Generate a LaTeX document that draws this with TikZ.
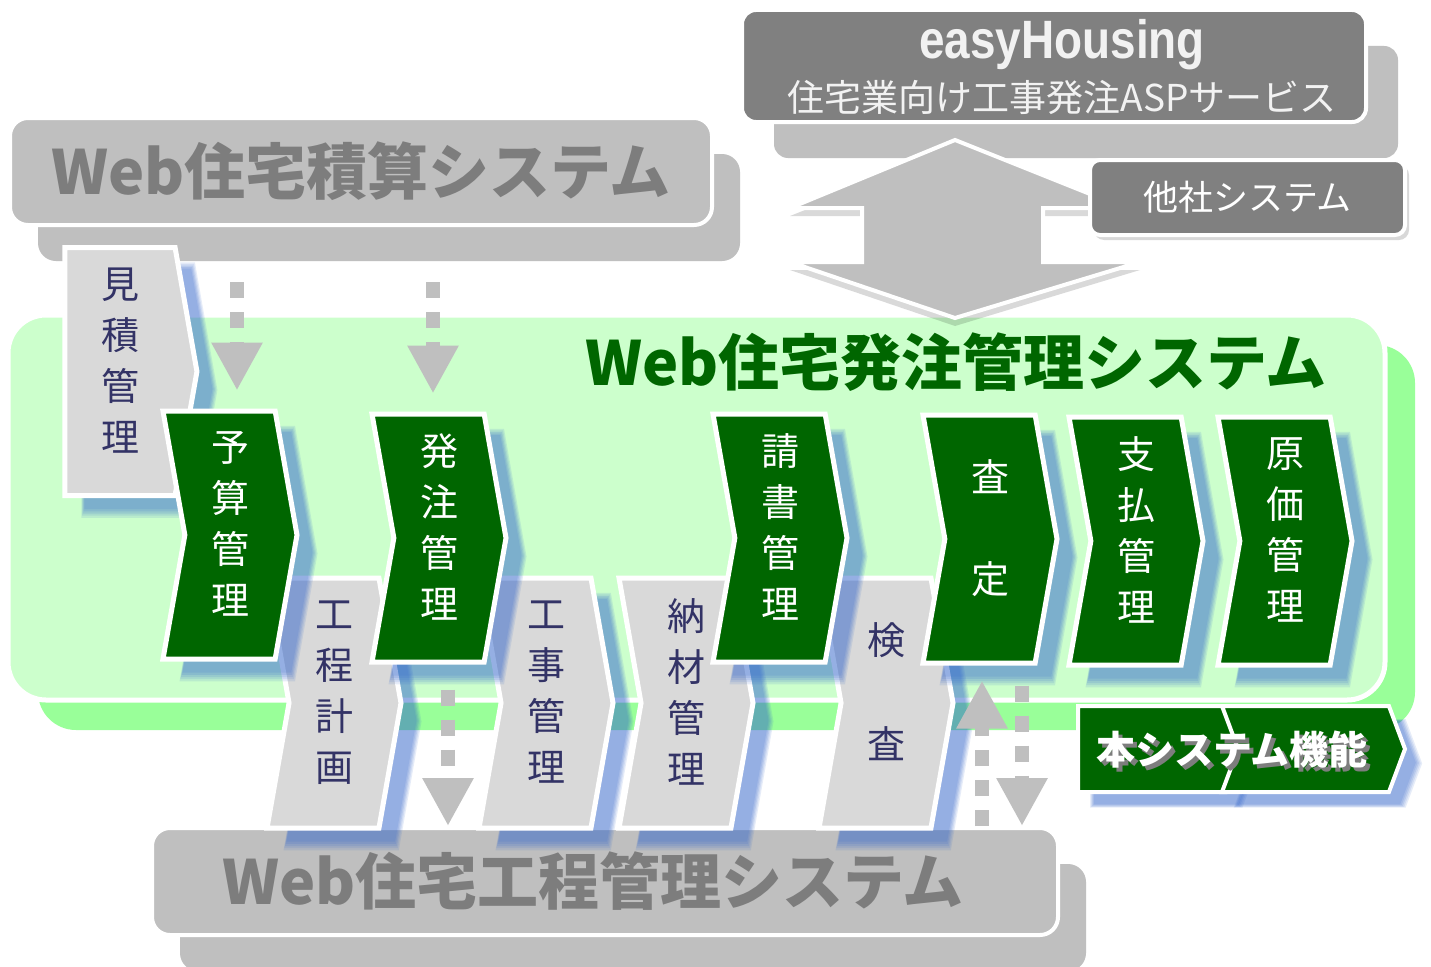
\documentclass[tikz,border=0pt]{standalone}
\usepackage{fontspec}
\usetikzlibrary{shapes.symbols, shadows, arrows.meta}
\newfontfamily\jpfont{Noto Sans CJK JP}
\newfontfamily\narrowsans[FakeStretch=0.85]{Liberation Sans}
% colours
\definecolor{boxgrey}{RGB}{191,191,191}
\definecolor{darkgrey}{RGB}{128,128,128}
\definecolor{titlegrey}{RGB}{125,125,125}
\definecolor{palegreen}{RGB}{204,255,204}
\definecolor{midgreen}{RGB}{153,255,153}
\definecolor{deepgreen}{RGB}{0,102,0}
\definecolor{chipgrey}{RGB}{217,217,217}
\definecolor{inkblue}{RGB}{51,51,102}
\definecolor{shadeblue}{RGB}{51,102,204}
\tikzset{
  blueshade/.style={
    drop shadow={shadow xshift=#1, shadow yshift=-#1, shadow scale=1.03, fill=shadeblue, opacity=.12},
    drop shadow={shadow xshift=#1, shadow yshift=-#1, shadow scale=1.015, fill=shadeblue, opacity=.12},
    drop shadow={shadow xshift=#1, shadow yshift=-#1, fill=shadeblue, opacity=.14},
    drop shadow={shadow xshift=#1, shadow yshift=-#1, shadow scale=.985, fill=shadeblue, opacity=.14},
    drop shadow={shadow xshift=#1, shadow yshift=-#1, shadow scale=.97, fill=shadeblue, opacity=.14}},
  chevron/.style={signal, signal from=west, signal to=east, signal pointer angle=160,
    minimum width=134pt, minimum height=248pt, inner sep=0pt, draw=white, line width=5pt,
    align=center, text depth=24pt, font=\fontsize{38}{51}\selectfont\jpfont, blueshade=18pt},
  ownstep/.style={chevron, fill=deepgreen, text=white},
  otherstep/.style={chevron, fill=chipgrey, text=inkblue},
  greybox/.style={rounded corners=18pt, draw=white, line width=4pt, fill=boxgrey,
    text=titlegrey, font=\fontsize{61}{61}\selectfont\jpfont\bfseries,
    drop shadow={shadow xshift=28pt, shadow yshift=-36pt, fill=boxgrey, opacity=1}},
  darkbox/.style={rounded corners=14pt, draw=white, line width=4pt, fill=darkgrey, text=white},
  legendstep/.style={signal, signal to=east, signal pointer angle=139, minimum height=86pt,
    inner sep=0pt, fill=deepgreen, draw=white, line width=4pt, blueshade=14pt},
  dasharrow/.style={draw=boxgrey, line width=14pt, dash pattern=on 16pt off 14pt,
    -{Triangle[width=48pt,length=48pt]}},
}

\begin{document}
\begin{tikzpicture}[x=1pt,y=-1pt]
  \useasboundingbox (0,0) rectangle (1431,966);
  \fill[white] (0,0) rectangle (1431,966);
  % Order management area
  \node[rounded corners=38pt, draw=white, line width=5pt, fill=palegreen,
    minimum width=1377pt, minimum height=385pt,
    drop shadow={shadow xshift=30pt, shadow yshift=-30pt, fill=midgreen, opacity=1}]
    (ordersys) at (696.5,507.5) {};
  \node[text=deepgreen, font=\fontsize{61}{61}\selectfont\jpfont\bfseries]
    (ordertitle) at (956,362) {Web住宅発注管理システム};
  % Systems around it
  \node[greybox, minimum width=702pt, minimum height=107pt] (sekisan) at (361,171.5) {Web住宅積算システム};
  \node[greybox, minimum width=906pt, minimum height=107pt] (koutei) at (605,881.5) {\hspace*{-24pt}Web住宅工程管理システム};
  \node[darkbox, minimum width=624pt, minimum height=112pt,
    drop shadow={shadow xshift=32pt, shadow yshift=-36pt, fill=boxgrey, opacity=1}] (easy) at (1054,66) {};
  \node[text=white!95!black, font=\fontsize{54}{54}\selectfont\narrowsans\bfseries] (easyname) at (1062,45) {easyHousing};
  \node[text=white!95!black, font=\fontsize{37}{37}\selectfont\jpfont] (easysub) at (1062,97) {住宅業向け工事発注ASPサービス};
  % two-way arrow
  \fill[black, opacity=.15] (955,150) -- (1125,216) -- (1043,216) -- (1043,270) -- (1140,270)
    -- (955,326) -- (790,270) -- (862,270) -- (862,216) -- (790,216) -- cycle;
  \filldraw[fill=boxgrey, draw=white, line width=4pt] (955,140) -- (1125,208) -- (1043,208)
    -- (1043,262) -- (1140,262) -- (955,318) -- (790,262) -- (862,262) -- (862,208) -- (790,208) -- cycle;
  \node[darkbox, rounded corners=10pt, minimum width=315pt, minimum height=75pt,
    font=\fontsize{35}{35}\selectfont\jpfont,
    drop shadow={shadow xshift=4pt, shadow yshift=-5pt, opacity=.3}] (tasha) at (1247.5,197.5) {他社システム};
  % Steps of the other systems
  \node[otherstep, signal from=nowhere, minimum width=132pt] (mitsumori) at (120,371.5) {見\\積\\管\\理};
  \node[otherstep, minimum height=250pt] (keikaku) at (334,703) {工\\程\\計\\画};
  \node[otherstep, minimum height=250pt] (kouji) at (546,703) {工\\事\\管\\理};
  \node[otherstep, minimum height=250pt] (nouzai) at (686,703) {納\\材\\管\\理};
  \node[otherstep, minimum height=250pt] (kensa) at (886,703) {検\\[53pt]査};
  % Steps of this system
  \node[ownstep] (yosan) at (230,535) {予\\算\\管\\理};
  \node[ownstep] (hatchu) at (439,538) {発\\注\\管\\理};
  \node[ownstep] (seisho) at (780,538) {請\\書\\管\\理};
  \node[ownstep] (satei) at (990,539) {査\\[51pt]定};
  \node[ownstep] (shiharai) at (1136,541) {支\\払\\管\\理};
  \node[ownstep] (genka) at (1285,541) {原\\価\\管\\理};
  % Legend
  \node[legendstep, signal from=nowhere, minimum width=164pt] (legendleft) at (1152,749) {};
  \node[legendstep, signal from=west, minimum width=183pt] (legendright) at (1313.5,749) {};
  \node[text=titlegrey, font=\fontsize{39}{39}\selectfont\jpfont\bfseries] (legendshade) at (1236,754) {本システム機能};
  \node[text=white, font=\fontsize{39}{39}\selectfont\jpfont\bfseries] (legendtext) at (1232,750) {本システム機能};
  % Data flows
  \draw[dasharrow, shorten <=55pt, shorten >=18pt] ([xshift=7pt]yosan.north |- sekisan.south) -- ([xshift=7pt]yosan.north);
  \draw[dasharrow, shorten <=55pt, shorten >=18pt] ([xshift=-6pt]hatchu.north |- sekisan.south) -- ([xshift=-6pt]hatchu.north);
  \draw[dasharrow, shorten <=25pt] ([xshift=9pt]hatchu.south) -- ([xshift=9pt]hatchu.south |- koutei.north);
  \draw[dasharrow, shorten >=15pt] ([xshift=-8pt]satei.south |- koutei.north) -- ([xshift=-8pt]satei.south);
  \draw[dasharrow, shorten <=20pt] ([xshift=32pt]satei.south) -- ([xshift=32pt]satei.south |- koutei.north);
\end{tikzpicture}
\end{document}
